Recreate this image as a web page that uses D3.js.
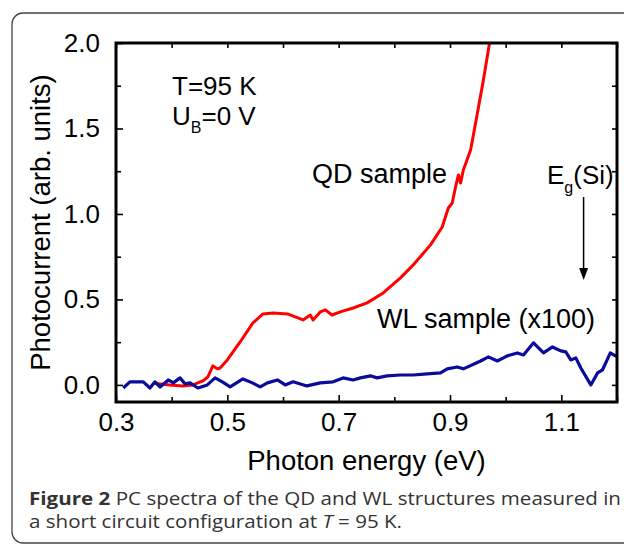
<!DOCTYPE html>
<html>
<head>
<meta charset="utf-8">
<script src="https://cdn.jsdelivr.net/npm/d3@7"></script>
<style>
  body { margin: 0; background: #fff; }
  svg text { font-family: "Liberation Sans", Arial, Helvetica, sans-serif; fill: #000; }
</style>
</head>
<body>
<div id="graph"></div>
<script>
// QD sample spectrum (red)
const qdEnergy = [0.367, 0.397, 0.420, 0.438, 0.456, 0.465, 0.474, 0.482, 0.487, 0.500, 0.523, 0.546, 0.564, 0.582,
  0.608, 0.636, 0.649, 0.654, 0.667, 0.676, 0.688, 0.703, 0.726, 0.751, 0.780, 0.811, 0.834, 0.865, 0.886,
  0.897, 0.904, 0.910, 0.915, 0.919, 0.924, 0.937, 0.947, 0.960, 0.971];
const qdSignal = [0.01, 0.0, -0.006, 0.0, 0.023, 0.047, 0.111, 0.094, 0.099, 0.146, 0.251, 0.363, 0.415, 0.421,
  0.415, 0.380, 0.409, 0.380, 0.427, 0.439, 0.409, 0.427, 0.450, 0.480, 0.538, 0.626, 0.702, 0.819, 0.924,
  1.035, 1.064, 1.158, 1.228, 1.181, 1.257, 1.374, 1.550, 1.784, 2.0];

// WL sample spectrum x100 (blue)
const wlEnergy = [0.313, 0.325, 0.349, 0.361, 0.370, 0.379, 0.394, 0.403, 0.415, 0.424, 0.433, 0.447, 0.464, 0.478,
  0.491, 0.505, 0.528, 0.545, 0.559, 0.572, 0.590, 0.604, 0.618, 0.643, 0.667, 0.690, 0.708, 0.726, 0.739,
  0.757, 0.769, 0.787, 0.811, 0.834, 0.859, 0.883, 0.895, 0.913, 0.924, 0.955, 0.969, 0.985, 1.003, 1.021,
  1.032, 1.050, 1.068, 1.084, 1.099, 1.108, 1.117, 1.126, 1.135, 1.153, 1.165, 1.174, 1.188, 1.197, 1.2];
const wlSignal = [-0.018, 0.018, 0.018, -0.018, 0.018, -0.012, 0.029, 0.012, 0.041, 0.006, 0.012, -0.018, 0.0, 0.041,
  0.018, -0.012, 0.035, 0.012, -0.012, 0.012, 0.029, 0.0, 0.018, -0.006, 0.012, 0.018, 0.041, 0.029, 0.041,
  0.053, 0.041, 0.053, 0.058, 0.058, 0.064, 0.070, 0.094, 0.105, 0.094, 0.140, 0.164, 0.140, 0.170, 0.187,
  0.175, 0.246, 0.187, 0.222, 0.199, 0.193, 0.146, 0.158, 0.099, 0.0, 0.070, 0.088, 0.187, 0.170, 0.175];

const xTickLabels = [0.3, 0.5, 0.7, 0.9, 1.1];
const xMinorTicks = [0.4, 0.6, 0.8, 1.0, 1.2];
const yTickLabels = [0.0, 0.5, 1.0, 1.5, 2.0];
const yMinorTicks = [0.25, 0.75, 1.25, 1.75];
const gapEnergy = 1.14;

let width = 624, height = 545;
const margin = {top: 43, right: 7, bottom: 143, left: 116};
let plotW = width - margin.left - margin.right, plotH = height - margin.top - margin.bottom;

let root = d3.select("#graph").append("svg")
  .attr("width", width)
  .attr("height", height);

// rounded figure frame
root.append("rect")
  .attr("x", 12).attr("y", 13)
  .attr("width", 700).attr("height", 530)
  .attr("rx", 11)
  .attr("fill", "none")
  .attr("stroke", "#444")
  .attr("stroke-width", 1.3);

let svg = root.append("g")
  .attr("transform", `translate(${margin.left},${margin.top})`);

let x = d3.scaleLinear().domain([0.3, 1.2]).range([0, plotW]);
let y = d3.scaleLinear().domain([-0.1, 2.0]).range([plotH, 0]);

function styleAxis(g) {
  g.select(".domain").remove();
  g.selectAll(".tick line").attr("stroke", "#000").attr("stroke-width", 1.6);
  g.selectAll(".tick text").style("font-size", "26px").attr("fill", "#000");
}

// bottom axis: labelled majors + minors, inward ticks
svg.append("g")
  .attr("transform", `translate(0,${plotH})`)
  .call(d3.axisBottom(x).tickValues(xTickLabels).tickSize(-7).tickPadding(11).tickFormat(d3.format(".1f")))
  .call(styleAxis);
svg.append("g")
  .attr("transform", `translate(0,${plotH})`)
  .call(d3.axisBottom(x).tickValues(xMinorTicks).tickSize(-5).tickFormat(""))
  .call(styleAxis);
// top axis
svg.append("g")
  .call(d3.axisTop(x).tickValues(xTickLabels.concat(xMinorTicks)).tickSize(-5).tickFormat(""))
  .call(styleAxis);

// left axis
svg.append("g")
  .call(d3.axisLeft(y).tickValues(yTickLabels).tickSize(-7).tickPadding(16).tickFormat(d3.format(".1f")))
  .call(styleAxis);
svg.append("g")
  .call(d3.axisLeft(y).tickValues(yMinorTicks).tickSize(-5).tickFormat(""))
  .call(styleAxis);
// right axis
svg.append("g")
  .attr("transform", `translate(${plotW},0)`)
  .call(d3.axisRight(y).tickValues(yTickLabels.concat(yMinorTicks)).tickSize(-5).tickFormat(""))
  .call(styleAxis);

svg.append("clipPath").attr("id", "clip")
  .append("rect").attr("width", plotW).attr("height", plotH);

let line = d3.line()
  .x(function(d) { return x(d[0]); })
  .y(function(d) { return y(d[1]); })
  .curve(d3.curveLinear);

svg.append("path")
  .datum(d3.zip(qdEnergy, qdSignal))
  .attr("clip-path", "url(#clip)")
  .attr("d", line)
  .attr("fill", "none")
  .attr("stroke", "#ff0000")
  .attr("stroke-width", 3)
  .attr("stroke-linejoin", "round");

svg.append("path")
  .datum(d3.zip(wlEnergy, wlSignal))
  .attr("clip-path", "url(#clip)")
  .attr("d", line)
  .attr("fill", "none")
  .attr("stroke", "#0a0a9c")
  .attr("stroke-width", 3.2)
  .attr("stroke-linejoin", "round");

// frame
svg.append("rect")
  .attr("width", plotW).attr("height", plotH)
  .attr("fill", "none")
  .attr("stroke", "#000")
  .attr("stroke-width", 3);

// annotations
svg.append("text")
  .attr("x", 172 - margin.left).attr("y", 95 - margin.top)
  .style("font-size", "26px")
  .text("T=95 K");

let ub = svg.append("text")
  .attr("x", 172 - margin.left).attr("y", 125 - margin.top)
  .style("font-size", "26px");
ub.append("tspan").text("U");
ub.append("tspan").attr("dy", 8).style("font-size", "16px").text("B");
ub.append("tspan").attr("dy", -8).text("=0 V");

svg.append("text")
  .attr("x", 312 - margin.left).attr("y", 183 - margin.top)
  .style("font-size", "27px")
  .text("QD sample");

svg.append("text")
  .attr("x", 595 - margin.left).attr("y", 328 - margin.top)
  .style("font-size", "27px")
  .style("text-anchor", "end")
  .text("WL sample (x100)");

let eg = svg.append("text")
  .attr("x", 547 - margin.left).attr("y", 184 - margin.top)
  .style("font-size", "26px");
eg.append("tspan").text("E");
eg.append("tspan").attr("dy", 9).style("font-size", "16px").text("g");
eg.append("tspan").attr("dy", -9).text("(Si)");

// arrow towards the Si gap
let ax = x(gapEnergy);
svg.append("line")
  .attr("x1", ax).attr("x2", ax)
  .attr("y1", 197 - margin.top).attr("y2", 270 - margin.top)
  .attr("stroke", "#000").attr("stroke-width", 1.5);
svg.append("path")
  .attr("d", `M${ax - 4.5},${268 - margin.top} L${ax + 4.5},${268 - margin.top} L${ax},${280 - margin.top} Z`)
  .attr("fill", "#000");

// axis titles
svg.append("text")
  .attr("transform", `translate(${50 - margin.left},${plotH / 2}) rotate(-90)`)
  .style("text-anchor", "middle")
  .style("font-size", "27.5px")
  .text("Photocurrent (arb. units)");

svg.append("text")
  .attr("x", plotW / 2).attr("y", 470 - margin.top)
  .style("text-anchor", "middle")
  .style("font-size", "27.5px")
  .text("Photon energy (eV)");

// caption
let cap1 = root.append("text")
  .attr("x", 29).attr("y", 505)
  .attr("textLength", 592).attr("lengthAdjust", "spacingAndGlyphs")
  .style("font-family", "'Open Sans', 'Noto Sans', sans-serif")
  .style("font-size", "17.5px")
  .style("fill", "#333");
cap1.append("tspan").style("font-weight", "bold").style("fill", "#333").text("Figure 2");
cap1.append("tspan").style("fill", "#333").text(" PC spectra of the QD and WL structures measured in");

let cap2 = root.append("text")
  .attr("x", 29).attr("y", 528)
  .attr("textLength", 373).attr("lengthAdjust", "spacingAndGlyphs")
  .style("font-family", "'Open Sans', 'Noto Sans', sans-serif")
  .style("font-size", "17.5px")
  .style("fill", "#333");
cap2.append("tspan").style("fill", "#333").text("a short circuit configuration at ");
cap2.append("tspan").style("font-style", "italic").style("fill", "#333").text("T");
cap2.append("tspan").style("fill", "#333").text(" = 95 K.");
</script>
</body>
</html>
